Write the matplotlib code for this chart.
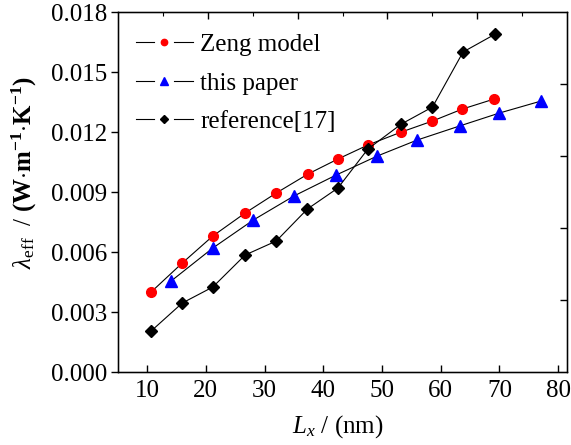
import numpy as np
import matplotlib
matplotlib.use("Agg")
import matplotlib.pyplot as plt
from matplotlib.lines import Line2D
from matplotlib.legend_handler import HandlerBase

plt.rcParams['font.family'] = ['Liberation Serif', 'DejaVu Serif']
plt.rcParams['mathtext.fontset'] = 'custom'
plt.rcParams['mathtext.rm'] = 'Liberation Serif'
plt.rcParams['mathtext.it'] = 'Liberation Serif:italic'
plt.rcParams['mathtext.bf'] = 'Liberation Serif:bold'

# data
zeng_x = [10.7, 16.0, 21.2, 26.7, 32.0, 37.4, 42.5, 47.6, 53.3, 58.6, 63.7, 69.1]
zeng_y = [0.0040, 0.00545, 0.0068, 0.00795, 0.00895, 0.0099, 0.01065, 0.01135,
          0.0120, 0.01255, 0.01315, 0.01365]

paper_x = [14.1, 21.2, 28.1, 35.0, 42.2, 49.2, 56.0, 63.2, 70.0, 77.1]
paper_y = [0.00455, 0.0062, 0.0076, 0.0088, 0.00985, 0.0108, 0.0116, 0.0123,
           0.01295, 0.01355]

ref_x = [10.7, 16.0, 21.2, 26.7, 32.0, 37.3, 42.5, 47.6, 53.3, 58.6, 63.8, 69.3]
ref_y = [0.00205, 0.00345, 0.00425, 0.00585, 0.00655, 0.00815, 0.0092, 0.01115,
         0.0124, 0.01325, 0.0160, 0.0169]

labels = ['Zeng model', 'this paper', 'reference[17]']
styles = [('o', 'red', 7), ('^', 'blue', 8), ('D', 'black', 6.5)]


class GapLineHandler(HandlerBase):
    # "— ● —" : two short line pieces with the marker in the gap
    def create_artists(self, legend, orig_handle, xdescent, ydescent,
                       width, height, fontsize, trans):
        y = height / 2 - ydescent
        x0 = -xdescent
        seg = width * 0.33
        left = Line2D([x0, x0 + seg], [y, y], color='black', lw=0.8)
        right = Line2D([x0 + width - seg, x0 + width], [y, y], color='black', lw=0.8)
        mk = Line2D([x0 + width / 2], [y], linestyle='none',
                    marker=orig_handle.get_marker(),
                    ms=orig_handle.get_markersize() * 0.65,
                    mfc=orig_handle.get_markerfacecolor(),
                    mec=orig_handle.get_markeredgecolor())
        arts = [left, right, mk]
        for a in arts:
            a.set_transform(trans)
        return arts


fig = plt.figure(figsize=(5.71, 4.45), dpi=100)
ax = fig.add_axes([0.2067, 0.164, 0.7863, 0.809])

lines = []
for (xs, ys), (m, c, ms) in zip([(zeng_x, zeng_y), (paper_x, paper_y), (ref_x, ref_y)], styles):
    ln, = ax.plot(xs, ys, '-', color='black', lw=0.8, marker=m, ms=ms, mfc=c, mec=c)
    lines.append(ln)

x0, x1 = 5.06, 81.5
y0, y1 = 0.0, 0.018
ax.set_xlim(x0, x1)
ax.set_ylim(y0, y1)
ax.set_xticks(np.arange(10, 81, 10))
ax.set_yticks(np.arange(0, 0.0181, 0.003))
ax.yaxis.set_major_formatter(matplotlib.ticker.FormatStrFormatter('%.3f'))

ax.tick_params(axis='x', direction='in', length=5, width=1, labelsize=18, pad=6)
ax.tick_params(axis='y', direction='out', length=5, width=1, labelsize=18, pad=3)
for s in ax.spines.values():
    s.set_linewidth(1.0)

# top / right frame ticks
axt = ax.twiny()
axt.set_xlim(x0, x1)
step = (x1 - x0) / 5
axt.set_xticks([x0 + k * step for k in range(1, 5)])
axt.set_xticks([x0 + (k + 0.5) * step for k in range(5)], minor=True)
axt.tick_params(axis='x', which='major', direction='in', length=5, width=1, labeltop=False)
axt.tick_params(axis='x', which='minor', direction='in', length=3, width=0.8)

axr = ax.twinx()
axr.set_ylim(y0, y1)
axr.set_yticks([y1 / 5 * k for k in range(1, 5)])
axr.tick_params(axis='y', direction='in', length=5, width=1, labelright=False)

ax.set_xlabel(r'$L_x$ / (nm)', fontsize=18, labelpad=2)
ax.set_ylabel(r'$\lambda_{\rm eff}$  / $\mathbf{(W{\cdot}m^{-1}{\cdot}K^{-1})}$',
              fontsize=18)
ax.yaxis.set_label_coords(-0.175, 0.555)
ax.xaxis.set_label_coords(0.49, -0.115)

axr.legend(lines, labels, loc='upper left', frameon=False, fontsize=18,
           handler_map={Line2D: GapLineHandler()},
           handlelength=2.28, handletextpad=0.3, labelspacing=0.64,
           borderaxespad=0.0, bbox_to_anchor=(0.017, 0.968))

fig.savefig('out.png', dpi=100)
